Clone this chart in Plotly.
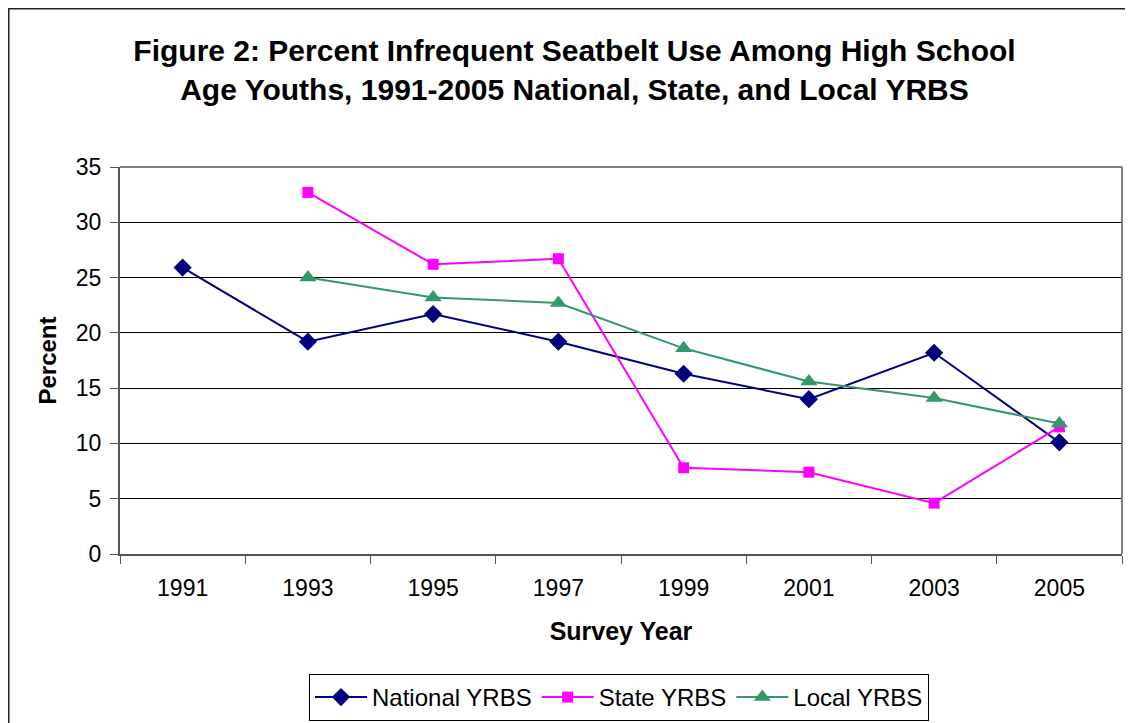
import plotly.graph_objects as go

years = ["1991", "1993", "1995", "1997", "1999", "2001", "2003", "2005"]
national = [25.9, 19.2, 21.7, 19.2, 16.3, 14.0, 18.2, 10.1]
state = [None, 32.7, 26.2, 26.7, 7.8, 7.4, 4.6, 11.5]
local = [None, 25.0, 23.2, 22.7, 18.6, 15.6, 14.1, 11.8]

FONT = "Liberation Sans, Arial, sans-serif"

fig = go.Figure()
fig.add_trace(go.Scatter(
    x=years, y=national, name="National YRBS", mode="lines+markers",
    line=dict(color="#000080", width=2),
    marker=dict(symbol="diamond", size=14, color="#000080"),
))
fig.add_trace(go.Scatter(
    x=years, y=state, name="State YRBS", mode="lines+markers",
    line=dict(color="#FF00FF", width=2),
    marker=dict(symbol="square", size=11, color="#FF00FF"),
))
fig.add_trace(go.Scatter(
    x=years, y=local, name="Local YRBS", mode="lines+markers",
    line=dict(color="#339966", width=2),
    marker=dict(symbol="triangle-up", size=15, color="#339966"),
))

# page body adds an 8px offset; figure coordinates = reference - 8
W, H = 1125, 715
L, T = 112, 159
pw, ph = 1002, 387
R = W - L - pw
B = H - T - ph

fig.update_layout(
    width=W, height=H,
    margin=dict(l=L, r=R, t=T, b=B, autoexpand=False),
    paper_bgcolor="white", plot_bgcolor="white",
    font=dict(family=FONT, size=23, color="black"),
    title=dict(
        text="<b>Figure 2: Percent Infrequent Seatbelt Use Among High School<br>Age Youths, 1991-2005 National, State, and Local YRBS</b>",
        x=566.5 / W, xanchor="center", xref="container",
        y=1 - 52.5 / H, yanchor="middle", yref="container",
        font=dict(family=FONT, size=30, color="black"),
    ),
    showlegend=True,
    legend=dict(
        orientation="h", x=(611 - L) / pw, xanchor="center",
        y=-120 / ph, yanchor="top",
        bordercolor="black", borderwidth=1, bgcolor="white",
        font=dict(family=FONT, size=24, color="black"),
        tracegroupgap=0, itemwidth=52,
    ),
    xaxis=dict(
        type="category", range=[-0.5, 7.5],
        tickson="boundaries", ticks="outside", ticklen=8, tickcolor="#555555",
        ticklabelstandoff=12,
        showline=True, linecolor="#555555", linewidth=2, mirror=False,
        showgrid=False, tickfont=dict(size=23),
        title=dict(text="<b>Survey Year</b>", font=dict(size=25), standoff=23),
    ),
    yaxis=dict(
        range=[0, 35], dtick=5, tick0=0,
        ticks="outside", ticklen=8, tickcolor="#555555",
        ticklabelstandoff=4,
        showline=True, linecolor="#555555", linewidth=2,
        showgrid=True, gridcolor="black", gridwidth=1,
        zeroline=False, tickfont=dict(size=23),
        title=dict(text="<b>Percent</b>", font=dict(size=24), standoff=12),
    ),
    shapes=[
        dict(type="line", xref="paper", yref="paper", x0=0, x1=1, y0=1, y1=1,
             line=dict(color="#808080", width=2)),
        dict(type="line", xref="paper", yref="paper", x0=1, x1=1, y0=0, y1=1,
             line=dict(color="#808080", width=2)),
        dict(type="rect", xref="paper", yref="paper",
             x0=(0.75 - L) / pw, x1=(W + 20 - L) / pw,
             y0=-(B + 20) / ph, y1=1 + (T - 0.75) / ph,
             line=dict(color="#222222", width=1.5), fillcolor="rgba(0,0,0,0)", layer="below"),
    ],
)

fig.write_html("out.html")
